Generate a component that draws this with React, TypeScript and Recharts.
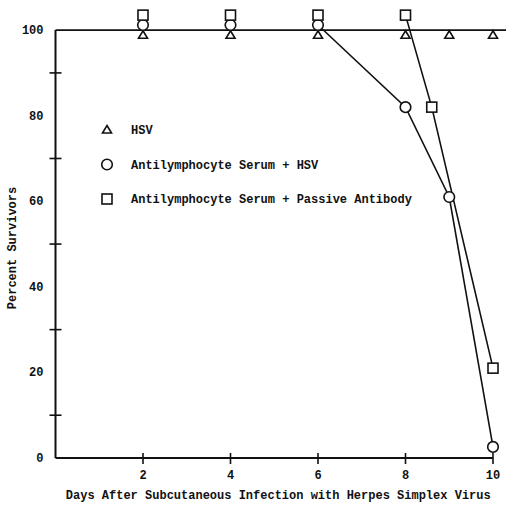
import React from 'react';
import { LineChart, Line, XAxis, YAxis, ReferenceLine, Legend } from 'recharts';

// Days after infection and percent survivors (markers are drawn slightly offset in the original)
const hsvDays = [2, 4, 6, 8, 9, 10];
const hsvVals = [98.8, 98.8, 98.8, 98.8, 98.8, 98.8];

const alsDays = [2, 4, 6, 8, 9, 10];
const alsVals = [101.2, 101.2, 101.2, 82, 61, 2.6];

const paDays = [2, 4, 6, 8, 8.6, 10];
const paVals = [103.5, 103.5, 103.5, 103.5, 82, 21];

const xTicks = [2, 4, 6, 8, 10];
const yTicks = [0, 10, 20, 30, 40, 50, 60, 70, 80, 90, 100];

const legendLabels = [
  'HSV',
  'Antilymphocyte Serum + HSV',
  'Antilymphocyte Serum + Passive Antibody',
];

const xLabel = 'Days After Subcutaneous Infection with Herpes Simplex Virus';
const yLabel = 'Percent Survivors';

const INK = '#111';
const FONT = '"Liberation Mono", "DejaVu Sans Mono", monospace';

const hsvData = hsvDays.map((d, i) => ({ day: d, v: hsvVals[i] }));
const alsData = alsDays.map((d, i) => ({ day: d, v: alsVals[i] }));
const paData = paDays.map((d, i) => ({ day: d, v: paVals[i] }));
const alsLineData = alsData.slice(2);
const paLineData = paData.slice(3);

const Tri = ({ cx, cy }: any) => (
  <path
    d={`M${cx},${cy - 4.5} L${cx + 4.5},${cy + 3} L${cx - 4.5},${cy + 3} Z`}
    fill="#fff"
    stroke={INK}
    strokeWidth={1.6}
  />
);
const Circ = ({ cx, cy }: any) => (
  <circle cx={cx} cy={cy} r={5.3} fill="#fff" stroke={INK} strokeWidth={1.6} />
);
const Sq = ({ cx, cy }: any) => (
  <rect x={cx - 5} y={cy - 5} width={10} height={10} fill="#fff" stroke={INK} strokeWidth={1.6} />
);

const YTick = (props: any) => {
  const { x, y, payload } = props;
  const v = payload.value;
  if (v % 20 === 0) {
    return (
      <text x={x - 12} y={y} dy={4} textAnchor="end" fontFamily={FONT} fontWeight="bold" fontSize={12} fill={INK}>
        {v}
      </text>
    );
  }
  return <line x1={x - 6} x2={x + 6} y1={y} y2={y} stroke={INK} strokeWidth={1.6} />;
};

const XTick = (props: any) => {
  const { x, y, payload } = props;
  return (
    <g>
      <line x1={x} x2={x} y1={y - 5} y2={y + 6} stroke={INK} strokeWidth={1.6} />
      <text x={x} y={y + 21} textAnchor="middle" fontFamily={FONT} fontWeight="bold" fontSize={12} fill={INK}>
        {payload.value}
      </text>
    </g>
  );
};

const renderLegend = () => {
  const markers = [
    (cx: number, cy: number) => <Tri cx={cx} cy={cy} />,
    (cx: number, cy: number) => <Circ cx={cx} cy={cy} />,
    (cx: number, cy: number) => <Sq cx={cx} cy={cy} />,
  ];
  return (
    <svg width={380} height={100}>
      {legendLabels.map((lab, i) => {
        const cy = 12 + i * 34.5;
        return (
          <g key={lab}>
            {markers[i](12, cy)}
            <text x={36} y={cy + 4} fontFamily={FONT} fontWeight="bold" fontSize={12} fill={INK}>
              {lab}
            </text>
          </g>
        );
      })}
    </svg>
  );
};

export default function App() {
  return (
    <div style={{ position: 'absolute', left: 0, top: 0, background: '#fff' }}>
      <LineChart width={506} height={513} margin={{ top: 13, right: 13, bottom: 0, left: 0 }}>
        <XAxis
          type="number"
          dataKey="day"
          domain={[0, 10]}
          ticks={xTicks}
          tick={<XTick />}
          tickLine={false}
          tickSize={0}
          tickMargin={0}
          height={55}
          axisLine={{ stroke: INK, strokeWidth: 2 }}
          allowDuplicatedCategory={false}
          label={{
            content: (p: any) => {
              const vb = p.viewBox;
              return (
                <text
                  x={vb.x + vb.width / 2 + 4}
                  y={vb.y + 41}
                  textAnchor="middle"
                  fontFamily={FONT}
                  fontWeight="bold"
                  fontSize={12}
                  fill={INK}
                >
                  {xLabel}
                </text>
              );
            },
          }}
        />
        <YAxis
          type="number"
          domain={[0, 104]}
          ticks={yTicks}
          tick={<YTick />}
          tickLine={false}
          tickSize={0}
          tickMargin={0}
          width={55.5}
          axisLine={false}
          label={{
            content: () => (
              <text
                transform="translate(16,248) rotate(-90)"
                textAnchor="middle"
                fontFamily={FONT}
                fontWeight="bold"
                fontSize={12}
                fill={INK}
              >
                {yLabel}
              </text>
            ),
          }}
        />
        <ReferenceLine
          segment={[{ x: 0, y: 0 }, { x: 0, y: 100 }]}
          stroke={INK}
          strokeWidth={2}
          ifOverflow="visible"
        />
        <ReferenceLine
          segment={[{ x: 0, y: 100 }, { x: 10.3, y: 100 }]}
          stroke={INK}
          strokeWidth={1.8}
          ifOverflow="visible"
        />
        <Line data={alsLineData} dataKey="v" stroke={INK} strokeWidth={1.6} dot={false} type="linear" isAnimationActive={false} />
        <Line data={paLineData} dataKey="v" stroke={INK} strokeWidth={1.6} dot={false} type="linear" isAnimationActive={false} />
        <Line data={hsvData} dataKey="v" stroke="none" dot={<Tri />} activeDot={false} isAnimationActive={false} />
        <Line data={alsData} dataKey="v" stroke="none" dot={<Circ />} activeDot={false} isAnimationActive={false} />
        <Line data={paData} dataKey="v" stroke="none" dot={<Sq />} activeDot={false} isAnimationActive={false} />
        <Legend
          content={renderLegend}
          layout="horizontal"
          verticalAlign="middle"
          align="center"
          wrapperStyle={{ position: 'absolute', top: 118, left: 95, width: 380, height: 100 }}
        />
      </LineChart>
    </div>
  );
}
